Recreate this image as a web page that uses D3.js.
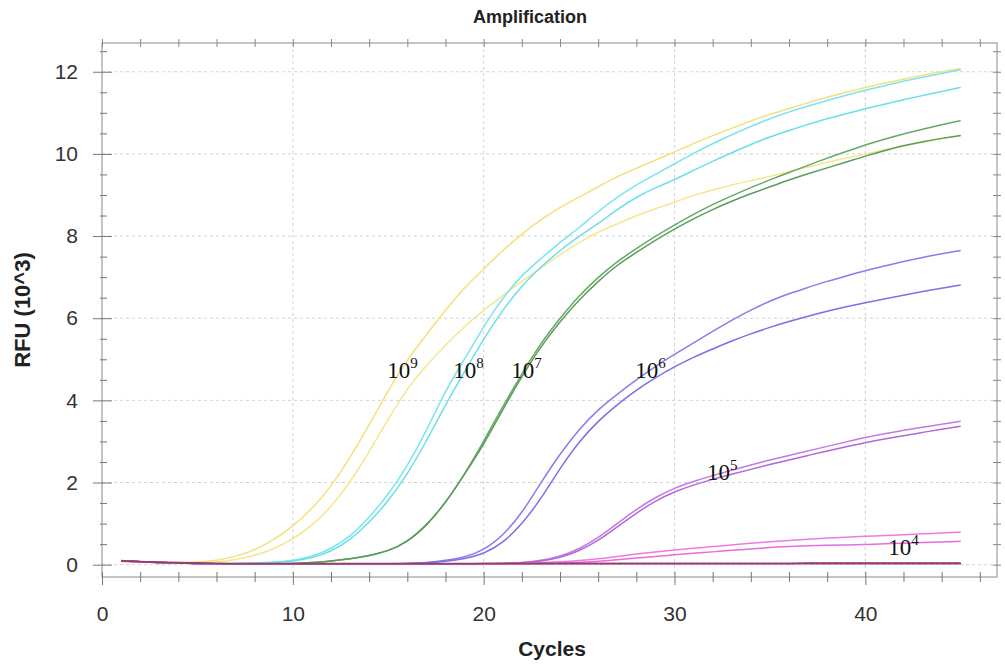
<!DOCTYPE html>
<html>
<head>
<meta charset="utf-8">
<title>Amplification</title>
<style>
  body { margin: 0; background: #fff; }
  .tick text { font-family: "Liberation Sans", Arial, sans-serif; fill: #333; }
  .lbl { font-family: "Liberation Serif", "Times New Roman", serif; fill: #111; }
</style>
</head>
<body>
<svg id="chart" width="1005" height="665"></svg>
<script src="https://d3js.org/d3.v7.min.js"></script>
<script>
// ---- data (RFU in 10^3, one value per cycle 1..45) ----
var cycles = d3.range(1, 46);

var y9a = [.09,.07,.05,.05,.06,.1,.2,.35,.6,.93,1.35,1.9,2.6,3.4,4.25,5.0,5.6,6.2,6.75,7.2,7.65,8.05,8.4,8.7,8.95,9.2,9.45,9.65,9.85,10.05,10.25,10.45,10.62,10.8,10.97,11.1,11.25,11.38,11.5,11.62,11.72,11.82,11.92,12.0,12.08];
var y9b = [.09,.07,.05,.04,.04,.06,.12,.22,.38,.62,.95,1.4,2.0,2.75,3.55,4.3,4.85,5.35,5.8,6.2,6.55,6.9,7.22,7.55,7.85,8.1,8.3,8.5,8.67,8.82,9.0,9.12,9.25,9.35,9.45,9.57,9.68,9.8,9.9,10.0,10.1,10.2,10.28,10.37,10.45];
var c8a = [.09,.07,.05,.04,.03,.03,.03,.04,.06,.1,.2,.38,.68,1.15,1.7,2.4,3.25,4.25,5.0,5.8,6.5,7.05,7.45,7.85,8.2,8.6,8.95,9.25,9.5,9.76,10.02,10.25,10.47,10.67,10.86,11.02,11.17,11.3,11.43,11.55,11.66,11.77,11.87,11.96,12.05];
var c8b = [.09,.07,.05,.04,.03,.03,.03,.03,.05,.08,.16,.32,.6,1.02,1.55,2.2,3.0,3.9,4.7,5.5,6.2,6.8,7.25,7.65,8.0,8.3,8.65,8.95,9.18,9.37,9.6,9.82,10.03,10.23,10.42,10.57,10.72,10.86,10.98,11.1,11.21,11.32,11.42,11.52,11.62];
var g7a = [.09,.07,.05,.04,.03,.02,.02,.02,.02,.03,.05,.09,.14,.22,.33,.55,.95,1.5,2.2,3.0,3.85,4.65,5.4,6.0,6.55,7.0,7.38,7.7,8.0,8.27,8.53,8.77,8.98,9.18,9.37,9.55,9.72,9.9,10.06,10.22,10.36,10.49,10.6,10.71,10.81];
var g7b = [.09,.07,.05,.04,.03,.02,.02,.02,.02,.03,.05,.09,.14,.22,.33,.55,.95,1.5,2.2,2.92,3.78,4.58,5.32,5.92,6.45,6.9,7.3,7.6,7.9,8.17,8.42,8.65,8.85,9.03,9.2,9.37,9.52,9.66,9.8,9.95,10.08,10.2,10.3,10.38,10.45];
var b6a = [.09,.07,.05,.04,.03,.02,.02,.02,.02,.02,.02,.02,.02,.02,.02,.03,.05,.1,.18,.35,.7,1.25,2.0,2.7,3.3,3.78,4.15,4.5,4.83,5.12,5.4,5.68,5.95,6.2,6.42,6.6,6.75,6.9,7.03,7.16,7.27,7.38,7.48,7.57,7.65];
var b6b = [.09,.07,.05,.04,.03,.02,.02,.02,.02,.02,.02,.02,.02,.02,.02,.03,.04,.08,.14,.26,.52,.98,1.6,2.35,3.0,3.5,3.9,4.25,4.55,4.82,5.05,5.25,5.45,5.62,5.78,5.92,6.05,6.17,6.28,6.38,6.47,6.56,6.65,6.73,6.81];
var p5a = [.09,.07,.05,.04,.03,.02,.02,.02,.02,.02,.02,.02,.02,.02,.02,.02,.02,.02,.02,.02,.03,.05,.1,.2,.38,.65,1.0,1.35,1.64,1.87,2.03,2.17,2.3,2.43,2.55,2.66,2.77,2.88,2.99,3.1,3.19,3.27,3.35,3.42,3.49];
var p5b = [.09,.07,.05,.04,.03,.02,.02,.02,.02,.02,.02,.02,.02,.02,.02,.02,.02,.02,.02,.02,.03,.04,.08,.17,.33,.58,.92,1.26,1.55,1.78,1.94,2.08,2.2,2.32,2.44,2.55,2.66,2.77,2.87,2.97,3.06,3.14,3.22,3.3,3.37];
var k4a = [.09,.07,.05,.04,.03,.02,.02,.02,.02,.02,.02,.02,.02,.02,.02,.02,.02,.02,.02,.02,.02,.03,.05,.07,.1,.14,.2,.26,.31,.36,.4,.44,.48,.52,.56,.59,.62,.65,.67,.69,.71,.73,.75,.77,.79];
var k4b = [.09,.07,.05,.04,.03,.02,.02,.02,.02,.02,.02,.02,.02,.02,.02,.02,.02,.02,.02,.02,.02,.02,.02,.04,.06,.08,.12,.16,.2,.24,.28,.31,.35,.38,.42,.44,.46,.47,.48,.49,.51,.52,.54,.55,.57];
var ntc1 = [.10,.08,.06,.05,.04,.03,.03,.03,.03,.03,.03,.03,.03,.03,.03,.03,.03,.03,.03,.03,.03,.03,.03,.03,.03,.03,.03,.03,.03,.03,.03,.03,.03,.03,.03,.03,.04,.04,.04,.04,.04,.04,.04,.04,.04];
var ntc2 = [.08,.06,.05,.04,.03,.02,.02,.02,.02,.02,.02,.02,.02,.02,.02,.02,.02,.02,.02,.02,.02,.02,.02,.02,.02,.02,.02,.02,.02,.02,.02,.02,.02,.02,.02,.02,.02,.02,.02,.02,.02,.02,.02,.02,.02];
var ntc3 = [.09,.07,.05,.04,.03,.03,.02,.02,.02,.02,.02,.02,.02,.02,.02,.02,.02,.02,.02,.03,.03,.03,.03,.03,.03,.03,.03,.03,.03,.03,.03,.03,.03,.03,.03,.03,.03,.03,.03,.03,.03,.03,.03,.03,.03];

var xMajor = [0, 10, 20, 30, 40];
var yMajor = [0, 2, 4, 6, 8, 10, 12];

// dilution labels: text, exponent, cycle, RFU
var labelText = ["10", "10", "10", "10", "10", "10"];
var labelExp = ["9", "8", "7", "6", "5", "4"];
var labelX = [14.95, 18.4, 21.45, 27.95, 31.7, 41.2];
var labelY = [4.55, 4.55, 4.55, 4.55, 2.07, 0.24];

// ---- layout ----
var svg = d3.select("#chart"),
    margin = {top: 43, right: 8, bottom: 88, left: 102},
    width = +svg.attr("width") - margin.left - margin.right,
    height = +svg.attr("height") - margin.top - margin.bottom,
    g = svg.append("g").attr("transform", "translate(" + margin.left + "," + margin.top + ")");

var x = d3.scaleLinear().domain([0, 46.9]).range([0, width]);
var y = d3.scaleLinear().domain([-0.3, 12.7]).range([height, 0]);

var series = [
  {v: y9a, c: "#f5e07c"}, {v: y9b, c: "#f6e68e"},
  {v: c8a, c: "#7be5ef"}, {v: c8b, c: "#6cdeeb"},
  {v: g7a, c: "#66a866"}, {v: g7b, c: "#589e5a"},
  {v: b6a, c: "#877ded"}, {v: b6b, c: "#7b70e6"},
  {v: p5a, c: "#c27ae2"}, {v: p5b, c: "#b068d6"},
  {v: k4a, c: "#f07ae2"}, {v: k4b, c: "#e96cde"},
  {v: ntc2, c: "#e67ab8"}, {v: ntc3, c: "#6a4596"}, {v: ntc1, c: "#9a3d62"}
];

// grid
g.append("g").selectAll("line").data(xMajor.slice(1)).enter().append("line")
  .attr("x1", x).attr("x2", x).attr("y1", 0).attr("y2", height)
  .attr("stroke", "#d2d2d2").attr("stroke-dasharray", "3,3");
g.append("g").selectAll("line").data(yMajor).enter().append("line")
  .attr("y1", y).attr("y2", y).attr("x1", 0).attr("x2", width)
  .attr("stroke", "#d2d2d2").attr("stroke-dasharray", "3,3");

// curves
var line = d3.line()
  .x(function(d, i) { return x(cycles[i]); })
  .y(function(d) { return y(d); })
  .curve(d3.curveBasis);

g.append("g").selectAll("path").data(series).enter().append("path")
  .attr("d", function(d) { return line(d.v); })
  .attr("fill", "none")
  .attr("stroke", function(d) { return d.c; })
  .attr("stroke-width", 1.5);

// frame
g.append("rect").attr("width", width).attr("height", height)
  .attr("fill", "none").attr("stroke", "#8a8a8a");

// axes: small ticks that cross the frame lines
var xMinor = d3.range(0, 47, 2);
var yMinor = d3.range(0, 12.6, 0.5);

var xb = g.append("g").attr("transform", "translate(0," + height + ")")
  .call(d3.axisBottom(x).tickValues(xMinor).tickFormat(""));
xb.selectAll(".tick line").attr("y1", -5).attr("y2", function(d) { return d % 10 === 0 ? 8 : 5; })
  .attr("stroke", "#777");
xb.select(".domain").remove();

var xt = g.append("g")
  .call(d3.axisTop(x).tickValues(xMinor).tickFormat(""));
xt.selectAll(".tick line").attr("y1", 4).attr("y2", -4).attr("stroke", "#888");
xt.select(".domain").remove();

var yl = g.append("g").call(d3.axisLeft(y).tickValues(yMinor).tickFormat(""));
yl.selectAll(".tick line").attr("x1", function(d) { return d % 2 === 0 ? 10 : 5; })
  .attr("x2", function(d) { return d % 2 === 0 ? -9 : -2; }).attr("stroke", "#777");
yl.select(".domain").remove();

var yr = g.append("g").attr("transform", "translate(" + width + ",0)")
  .call(d3.axisRight(y).tickValues(yMinor).tickFormat(""));
yr.selectAll(".tick line").attr("x1", -4).attr("x2", 4).attr("stroke", "#888");
yr.select(".domain").remove();

// tick labels
var xLab = g.append("g").attr("transform", "translate(0," + height + ")")
  .call(d3.axisBottom(x).tickValues(xMajor).tickSize(0).tickFormat(d3.format("d")));
xLab.select(".domain").remove();
xLab.selectAll(".tick text").attr("y", 29).attr("dy", "0.71em").style("font-size", "21px");

var yLab = g.append("g")
  .call(d3.axisLeft(y).tickValues(yMajor).tickSize(0).tickFormat(d3.format("d")));
yLab.select(".domain").remove();
yLab.selectAll(".tick text").attr("x", -24).style("font-size", "21px");

// titles
svg.append("text").attr("x", 530).attr("y", 23).attr("text-anchor", "middle")
  .style("font", "bold 18px 'Liberation Sans', Arial, sans-serif").attr("fill", "#222")
  .text("Amplification");
svg.append("text").attr("x", 552).attr("y", 656).attr("text-anchor", "middle")
  .style("font", "bold 21px 'Liberation Sans', Arial, sans-serif").attr("fill", "#222")
  .text("Cycles");
svg.append("text").attr("transform", "translate(30,310) rotate(-90)").attr("text-anchor", "middle")
  .style("font", "bold 22px 'Liberation Sans', Arial, sans-serif").attr("fill", "#222")
  .text("RFU (10^3)");

// dilution labels
var labs = g.append("g").selectAll("text").data(labelText).enter().append("text")
  .attr("class", "lbl")
  .attr("x", function(d, i) { return x(labelX[i]); })
  .attr("y", function(d, i) { return y(labelY[i]); })
  .style("font-size", "23px");
labs.append("tspan").text(function(d) { return d; });
labs.append("tspan").attr("dy", -10).style("font-size", "15px")
  .text(function(d, i) { return labelExp[i]; });
</script>
</body>
</html>
